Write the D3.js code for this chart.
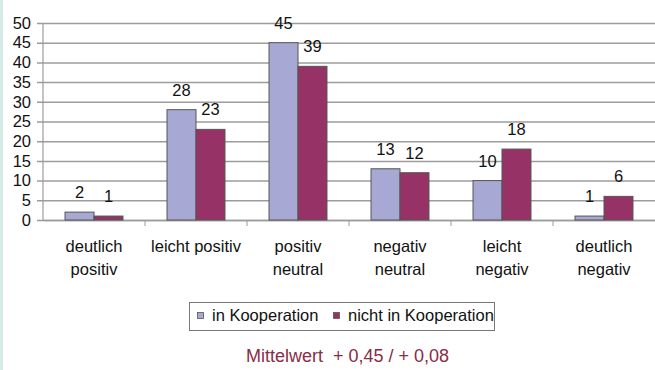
<!DOCTYPE html>
<html>
<head>
<meta charset="utf-8">
<script src="https://cdn.jsdelivr.net/npm/d3@7"></script>
<style>
  body { margin: 0; background: #fff; }
  svg { display: block; font-family: "Liberation Sans", Arial, sans-serif; }
</style>
</head>
<body>
<div id="chart"></div>
<script>
"use strict";

// data
var categories = [
    ["deutlich", "positiv"],
    ["leicht positiv"],
    ["positiv", "neutral"],
    ["negativ", "neutral"],
    ["leicht", "negativ"],
    ["deutlich", "negativ"]
];
var seriesNames = ["in Kooperation", "nicht in Kooperation"];
var inKooperation = [2, 28, 45, 13, 10, 1];
var nichtKooperation = [1, 23, 39, 12, 18, 6];
var yTicks = [0, 5, 10, 15, 20, 25, 30, 35, 40, 45, 50];
var footnote = "Mittelwert  + 0,45 / + 0,08";

var colors = ["#a8a8d4", "#963265"];

var width = 655, height = 370;
var margin = { top: 23, right: 0, bottom: 150, left: 43 };

var svg = d3.select("#chart")
    .append("svg")
    .attr("width", width)
    .attr("height", height);

// light strip on the left edge
svg.append("rect")
    .attr("x", 0).attr("y", 0)
    .attr("width", 3).attr("height", height)
    .attr("fill", "#d5ebe8");

var keys = categories.map((c, i) => i);

var x = d3.scaleBand()
    .domain(keys)
    .range([margin.left, width - margin.right])
    .paddingInner(0)
    .paddingOuter(0);

var x1 = d3.scaleBand()
    .domain(seriesNames)
    .range([0, x.bandwidth()])
    .paddingInner(0)
    .paddingOuter(0.76);

var y = d3.scaleLinear()
    .domain([0, 50])
    .range([height - margin.bottom, margin.top]);

// gridlines + y ticks
svg.append("g")
    .attr("transform", `translate(${margin.left},0)`)
    .call(d3.axisLeft(y).tickValues(yTicks).tickSize(-(width - margin.left)).tickPadding(12))
    .call(g => g.select(".domain").remove())
    .call(g => g.selectAll(".tick line")
        .attr("x1", -6)
        .attr("stroke", "#9c9c9c")
        .attr("stroke-width", 1.5))
    .call(g => g.selectAll(".tick text")
        .attr("fill", "#111")
        .style("font-size", "16.5px")
        .style("font-family", "Liberation Sans, Arial, sans-serif"));

// y axis line
svg.append("line")
    .attr("x1", margin.left).attr("x2", margin.left)
    .attr("y1", y(50)).attr("y2", y(0))
    .attr("stroke", "#9c9c9c")
    .attr("stroke-width", 1.2);

// x axis line
svg.append("g")
    .attr("transform", `translate(0,${y(0)})`)
    .call(d3.axisBottom(x).tickSize(0).tickFormat(""))
    .call(g => g.select(".domain").attr("stroke", "#9c9c9c").attr("stroke-width", 1.5))
    .call(g => g.selectAll(".tick").remove());

// ticks at category boundaries
svg.append("g")
    .selectAll("line")
    .data(keys.slice(1))
    .join("line")
    .attr("x1", d => x(d)).attr("x2", d => x(d))
    .attr("y1", y(0)).attr("y2", y(0) + 6)
    .attr("stroke", "#9c9c9c");

// category labels
svg.append("g")
    .selectAll("text")
    .data(categories)
    .join("text")
    .attr("text-anchor", "middle")
    .attr("x", (d, i) => x(i) + x.bandwidth() / 2)
    .attr("y", 252)
    .style("font-size", "16.5px")
    .attr("fill", "#111")
    .selectAll("tspan")
    .data(d => d)
    .join("tspan")
    .attr("x", function () { return d3.select(this.parentNode).attr("x"); })
    .attr("dy", (d, i) => i === 0 ? 0 : 23)
    .text(d => d);

// bars
var rows = keys.map(i => ({
    idx: i,
    values: [
        { key: seriesNames[0], value: inKooperation[i], color: colors[0] },
        { key: seriesNames[1], value: nichtKooperation[i], color: colors[1] }
    ]
}));

var groups = svg.append("g")
    .selectAll("g")
    .data(rows)
    .join("g")
    .attr("transform", d => `translate(${x(d.idx)},0)`);

groups.selectAll("rect")
    .data(d => d.values)
    .join("rect")
    .attr("x", d => x1(d.key))
    .attr("y", d => y(d.value))
    .attr("width", x1.bandwidth())
    .attr("height", d => y(0) - y(d.value))
    .attr("fill", d => d.color)
    .attr("stroke", "#555")
    .attr("stroke-width", 1);

groups.selectAll("text")
    .data(d => d.values)
    .join("text")
    .attr("text-anchor", "middle")
    .attr("x", d => x1(d.key) + x1.bandwidth() / 2)
    .attr("y", d => y(d.value) - 14)
    .style("font-size", "16.5px")
    .attr("fill", "#111")
    .text(d => d.value);

// legend
var legend = svg.append("g");

legend.append("rect")
    .attr("x", 189.5).attr("y", 302.5)
    .attr("width", 305).attr("height", 28)
    .attr("fill", "#fff")
    .attr("stroke", "#777")
    .attr("stroke-width", 1);

var legendX = [197, 333];
seriesNames.forEach((name, i) => {
    legend.append("rect")
        .attr("x", legendX[i] + 0.5).attr("y", 312.5)
        .attr("width", 6).attr("height", 6)
        .attr("fill", colors[i])
        .attr("stroke", "#555")
        .attr("stroke-width", 0.8);
    legend.append("text")
        .attr("x", legendX[i] + 15)
        .attr("y", 321)
        .style("font-size", "16.5px")
        .attr("fill", "#111")
        .text(name);
});

// footnote
svg.append("text")
    .attr("x", 246)
    .attr("y", 362)
    .style("font-size", "18px")
    .style("white-space", "pre")
    .attr("fill", "#8a2b47")
    .text(footnote);
</script>
</body>
</html>
